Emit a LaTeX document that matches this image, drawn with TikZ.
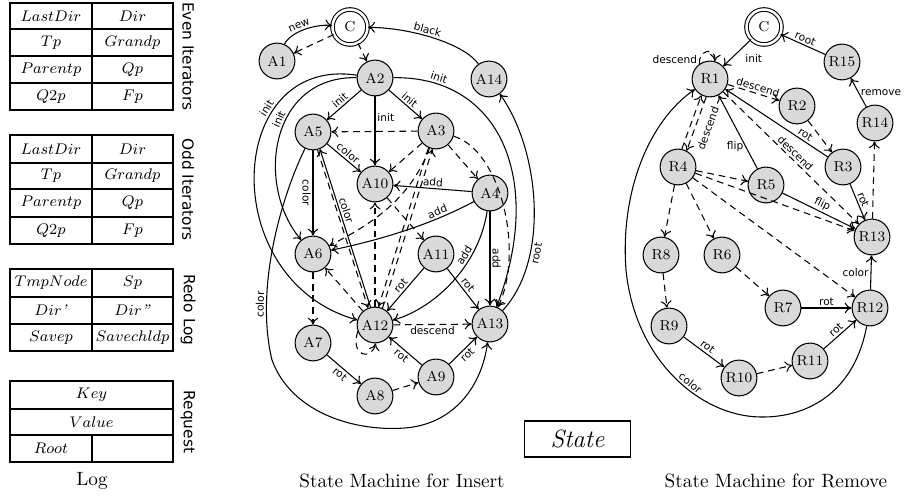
\documentclass[tikz,border=0pt]{standalone}
\usepackage{fontspec}
\newfontfamily\lblfont{DejaVu Sans}
\usetikzlibrary{arrows.meta}
\begin{document}
\begin{tikzpicture}[x=0.52pt,y=-0.52pt,line width=0.55pt,
  >={To[length=3.6pt,width=5.6pt]},
  st/.style={circle,draw,fill=gray!30,minimum size=18.6pt,inner sep=0pt,font=\fontsize{7.5}{8}\selectfont},
  ini/.style={circle,draw,double,double distance=1.3pt,fill=white,minimum size=18.2pt,inner sep=0pt,font=\fontsize{7.5}{8}\selectfont},
  lbl/.style={font=\lblfont\fontsize{5.5}{6}\selectfont,inner sep=1pt},
  dd/.style={dash pattern=on 3.5pt off 2.5pt},
  cell/.style={font=\fontsize{8}{9}\selectfont,inner sep=0pt},
  side/.style={font=\lblfont\fontsize{8}{9}\selectfont,rotate=-90,inner sep=0pt},
  ttl/.style={font=\fontsize{10}{12}\selectfont,inner sep=0pt},
  frame/.style={line width=1.1pt},
]
\useasboundingbox (0,0) rectangle (905,498);

% ---------------- tables ----------------
% Even iterators
\draw (92,3) -- (92,110) (10,29) -- (173,29) (10,56) -- (173,56) (10,83) -- (173,83);
\draw[frame] (10,3) rectangle (173,110);
\node[cell] (e11) at (51,16) {$LastDir$};
\node[cell] (e12) at (132.5,16) {$Dir$};
\node[cell] (e21) at (51,42.5) {$Tp$};
\node[cell] (e22) at (132.5,42.5) {$Grandp$};
\node[cell] (e31) at (51,69.5) {$Parentp$};
\node[cell] (e32) at (132.5,69.5) {$Qp$};
\node[cell] (e41) at (51,96.5) {$Q2p$};
\node[cell] (e42) at (132.5,96.5) {$Fp$};
\node[side] (even) at (188,56.5) {Even Iterators};
% Odd iterators
\draw (92,135) -- (92,244) (10,163) -- (173,163) (10,189) -- (173,189) (10,217) -- (173,217);
\draw[frame] (10,135) rectangle (173,244);
\node[cell] (o11) at (51,149) {$LastDir$};
\node[cell] (o12) at (132.5,149) {$Dir$};
\node[cell] (o21) at (51,176) {$Tp$};
\node[cell] (o22) at (132.5,176) {$Grandp$};
\node[cell] (o31) at (51,203) {$Parentp$};
\node[cell] (o32) at (132.5,203) {$Qp$};
\node[cell] (o41) at (51,230.5) {$Q2p$};
\node[cell] (o42) at (132.5,230.5) {$Fp$};
\node[side] (odd) at (188,189.5) {Odd Iterators};
% Redo log
\draw (92,269) -- (92,351) (10,297) -- (173,297) (10,324) -- (173,324);
\draw[frame] (10,269) rectangle (173,351);
\node[cell] (r11) at (51,283) {$TmpNode$};
\node[cell] (r12) at (132.5,283) {$Sp$};
\node[cell] (r21) at (51,310.5) {$Dir$\textit{’}};
\node[cell] (r22) at (132.5,310.5) {$Dir$\textit{”}};
\node[cell] (r31) at (51,337.5) {$Savep$};
\node[cell] (r32) at (132.5,337.5) {$Savechldp$};
\node[side] (redo) at (188,310) {Redo Log};
% Request
\draw (10,409) -- (173,409) (10,435) -- (173,435) (92,435) -- (92,462);
\draw[frame] (10,381) rectangle (173,462);
\node[cell] (q1) at (91.5,395) {$Key$};
\node[cell] (q2) at (91.5,422) {$Value$};
\node[cell] (q3) at (51,448.5) {$Root$};
\node[side] (req) at (188,422) {Request};
\node[ttl] (tlog) at (92,481) {Log};

% ---------------- insert machine ----------------
\node[ini] (C) at (350,27) {C};
\node[st] (A1) at (277,61) {A1};
\node[st] (A2) at (375,78) {A2};
\node[st] (A14) at (489,79) {A14};
\node[st] (A5) at (313,132) {A5};
\node[st] (A3) at (436,131) {A3};
\node[st] (A10) at (375,184) {A10};
\node[st] (A4) at (490,193) {A4};
\node[st] (A6) at (313,254) {A6};
\node[st] (A11) at (436,254) {A11};
\node[st] (A12) at (375,325) {A12};
\node[st] (A13) at (490,324) {A13};
\node[st] (A7) at (313,343) {A7};
\node[st] (A9) at (436,377) {A9};
\node[st] (A8) at (375,396) {A8};

\draw[->] (A1) .. controls (290,32) and (315,24) .. (C) node[lbl,pos=0.45,sloped,above]{new};
\draw[->,dd] (C) -- (A1);
\draw[->,dd] (C) -- (A2);
\draw[->] (A14) .. controls (465,45) and (415,28) .. (C) node[lbl,pos=0.58,sloped,above]{black};
\draw[->] (A2) .. controls (500,76) and (545,180) .. (A13) node[lbl,pos=0.15,sloped,above]{init};
\draw[->] (A13) .. controls (550,260) and (540,150) .. (A14) node[lbl,pos=0.3,sloped,below]{root};
\draw[->] (A2) -- node[lbl,sloped,above]{init} (A5);
\draw[->] (A2) -- node[lbl,pos=0.3,right]{init} (A10);
\draw[->] (A2) -- node[lbl,sloped,above]{init} (A3);
\draw[->] (A2) .. controls (270,76) and (255,185) .. (A6) node[lbl,pos=0.42,sloped,above]{init};
\draw[->] (A2) .. controls (225,55) and (215,280) .. (A12) node[lbl,pos=0.3,sloped,above]{init};
\draw[->] (A5) .. controls (280,200) and (255,290) .. (272,360) node[lbl,pos=0.75,sloped,above]{color}
  .. controls (290,410) and (350,432) .. (405,428) .. controls (455,424) and (482,385) .. (A13);
\draw[->,dd] (A3) -- (A5);
\draw[->] (A5) -- node[lbl,sloped,above]{color} (A10);
\draw[->] (A5) -- node[lbl,sloped,below]{color} (A6);
\draw[->] (A12.104) -- node[lbl,pos=0.6,sloped,above]{color} (A5.-68);
\draw[->,dd] (A5.-76) -- (A12.112);
\draw[->] (A4) -- node[lbl,sloped,above]{add} (A10);
\draw[->] (A4) .. controls (430,225) and (380,240) .. (A6) node[lbl,pos=0.25,sloped,above]{add};
\draw[->] (A4) .. controls (478,270) and (430,310) .. (A12) node[lbl,pos=0.3,sloped,above]{add};
\draw[->] (A4) -- node[lbl,sloped,above]{add} (A13);
\draw[->] (A11) -- node[lbl,sloped,above]{rot} (A12);
\draw[->] (A11) -- node[lbl,sloped,above]{rot} (A13);
\draw[->,dd] (A12) -- node[lbl,below]{descend} (A13);
\draw[->] (A9) -- node[lbl,sloped,below]{rot} (A12);
\draw[->] (A9) -- node[lbl,sloped,below]{rot} (A13);
\draw[->] (A7) -- node[lbl,sloped,below]{rot} (A8);
\draw[->,dd] (A8) -- (A9);
\draw[->,dd] (A6) -- (A7);
\draw[->,dd] (A12) -- (A6);
\draw[->,dd] (A12.200) .. controls (350,358) and (372,360) .. (A12.-88);
\draw[->,dd] (A12) -- (A10);
\draw[->,dd] (A10) -- (A11);
\draw[->,dd] (A3) -- (A10);
\draw[->,dd] (A3) -- (A4);
\draw[->,dd] (A3) .. controls (410,200) and (370,225) .. (A6);
\draw[->,dd] (A3.-114) -- (A12.79);
\draw[->,dd] (A12.66) -- (A3.-101);
\draw[->,dd] (A3) .. controls (500,150) and (525,250) .. (A13);

% ---------------- remove machine ----------------
\node[ini] (C2) at (764,27) {C};
\node[st] (R1) at (710,79) {R1};
\node[st] (R15) at (842,62) {R15};
\node[st] (R2) at (797,106) {R2};
\node[st] (R14) at (875,123) {R14};
\node[st] (R4) at (678,167) {R4};
\node[st] (R5) at (766,185) {R5};
\node[st] (R3) at (843,167) {R3};
\node[st] (R13) at (872,237) {R13};
\node[st] (R8) at (661,255) {R8};
\node[st] (R6) at (722,255) {R6};
\node[st] (R9) at (669,326) {R9};
\node[st] (R10) at (739,378) {R10};
\node[st] (R7) at (783,308) {R7};
\node[st] (R12) at (870,308) {R12};
\node[st] (R11) at (810,361) {R11};

\draw[->] (C2) -- node[lbl,pos=0.5,anchor=west,xshift=3pt,yshift=-3pt]{init} (R1);
\draw[->] (R15) -- node[lbl,sloped,above]{root} (C2);
\draw[->] (R14) -- node[lbl,right]{remove} (R15);
\draw[->,dd] (R13) -- (R14);
\draw[->,dd] (R1.125) .. controls (698,50) and (716,46) .. (R1.75) node[lbl,pos=0.1,left]{descend};
\draw[->,dd] (R1) -- node[lbl,pos=0.55,sloped,above]{descend} (R2);
\draw[->,dd] (R2) -- (R3);
\draw[->] (R3) -- node[lbl,pos=0.25,sloped,above]{rot} (R1);
\draw[->,dd] (R1) -- node[lbl,pos=0.5,sloped,above]{descend} (R13);
\draw[->] (R5) -- node[lbl,pos=0.3,left]{flip} (R1);
\draw[->] (R5) -- node[lbl,sloped,above]{flip} (R13);
\draw[->] (R3) -- node[lbl,sloped,above]{rot} (R13);
\draw[->,dd] (R4) -- (R5);
\draw[->,dd] (R4) -- (R13);
\draw[->,dd] (R4) -- (R12);
\draw[->,dd] (R1.-102) -- node[lbl,sloped,below=3pt]{descend} (R4.62);
\draw[->,dd] (R4.78) -- (R1.-118);
\draw[->,dd] (R4) -- (R6);
\draw[->,dd] (R4) -- (R8);
\draw[->,dd] (R6) -- (R7);
\draw[->,dd] (R8) -- (R9);
\draw[->] (R9) -- node[lbl,sloped,above]{rot} (R10);
\draw[->,dd] (R10) -- (R11);
\draw[->] (R11) -- node[lbl,sloped,above]{rot} (R12);
\draw[->] (R7) -- node[lbl,above]{rot} (R12);
\draw[->] (R12) -- node[lbl,left]{color} (R13);
\draw[->] (R12) .. controls (855,390) and (810,418) .. (760,417)
  .. controls (700,416) and (635,360) .. (626,270) node[lbl,pos=0.42,sloped,above]{color}
  .. controls (620,190) and (650,120) .. (R1);

% ---------------- state box and titles ----------------
\node[draw,minimum width=55.6pt,minimum height=18.7pt,inner sep=0pt,font=\fontsize{13}{15}\selectfont] (state) at (577.5,439) {\textit{State}};
\node[ttl] (tins) at (402,481) {State Machine for Insert};
\node[ttl] (trem) at (776,481) {State Machine for Remove};
\end{tikzpicture}
\end{document}
